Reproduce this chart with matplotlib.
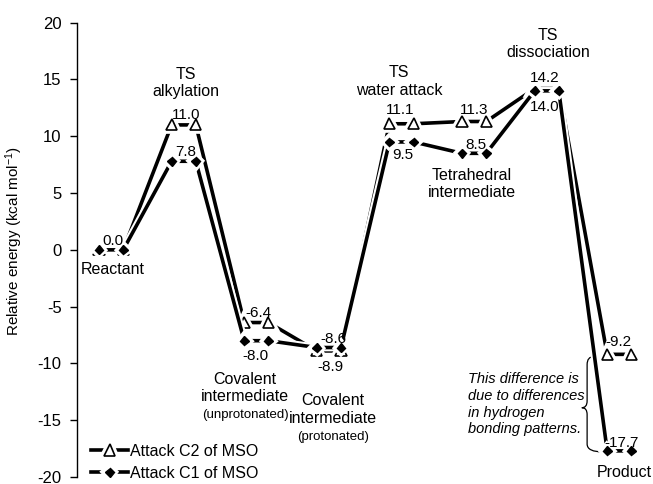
import numpy as np
import matplotlib
matplotlib.use("Agg")
import matplotlib.pyplot as plt
import matplotlib.patheffects as pe
from matplotlib.path import Path
from matplotlib.patches import PathPatch

plt.rcParams['font.family'] = ['Liberation Sans', 'DejaVu Sans']
plt.rcParams['mathtext.default'] = 'regular'
plt.rcParams['axes.unicode_minus'] = False

# energies per state (kcal/mol), each state drawn as a short plateau
states = ['Reactant', 'TS alkylation', 'Covalent (unprot.)', 'Covalent (prot.)',
          'TS water attack', 'Tetrahedral', 'TS dissociation', 'Product']
e_c2 = [0.0, 11.0, -6.4, -8.9, 11.1, 11.3, 14.2, -9.2]
e_c1 = [0.0, 7.8, -8.0, -8.6, 9.5, 8.5, 14.0, -17.7]

# value label positions (x, y) in data coords
lab_c2 = [(0.58, 0.8), (3.6, 11.9), (6.57, -5.55), (9.55, -10.3),
          (12.44, 12.3), (15.5, 12.3), (18.43, 15.14), (21.45, -8.1)]
lab_c1 = [None, (3.6, 8.6), (6.45, -9.33), (9.67, -7.83),
          (12.56, 8.36), (15.58, 9.24), (18.43, 12.6), (21.6, -17.0)]

x = []
for i in range(len(states)):
    x += [3 * i, 3 * i + 1]
y2 = np.repeat(e_c2, 2)
y1 = np.repeat(e_c1, 2)

fig = plt.figure(figsize=(6.53, 4.84), dpi=100)
ax = fig.add_axes([77 / 653, 1 - 477 / 484, (650 - 77) / 653, (477 - 22.7) / 484])

halo = [pe.Stroke(linewidth=5.5, foreground='white'), pe.Normal()]
ax.plot(x, y2, color='black', lw=2.6, marker='^', ms=8, mfc='white', mec='black',
        mew=1.2, label='Attack C2 of MSO', path_effects=halo, zorder=3)
ax.plot(x, y1, color='black', lw=2.6, marker='D', ms=4.5, mfc='black', mec='black',
        label='Attack C1 of MSO', path_effects=halo, zorder=4)

fs = 11
for v, p in zip(e_c2, lab_c2):
    ax.text(p[0], p[1], f'{v:.1f}', ha='center', va='center', fontsize=fs, zorder=6)
for v, p in zip(e_c1, lab_c1):
    if p is not None:
        ax.text(p[0], p[1], f'{v:.1f}', ha='center', va='center', fontsize=fs, zorder=6)

# state names
cf = 11.5
ax.text(0.58, -1.76, 'Reactant', ha='center', va='center', fontsize=cf)
ax.text(3.6, 14.7, 'TS\nalkylation', ha='center', va='center', fontsize=cf, linespacing=1.2)
ax.text(6.03, -12.15, 'Covalent\nintermediate', ha='center', va='center', fontsize=cf, linespacing=1.2)
ax.text(6.03, -14.5, '(unprotonated)', ha='center', va='center', fontsize=9.5)
ax.text(9.67, -14.04, 'Covalent\nintermediate', ha='center', va='center', fontsize=cf, linespacing=1.2)
ax.text(9.67, -16.46, '(protonated)', ha='center', va='center', fontsize=9.5)
ax.text(12.4, 14.83, 'TS\nwater attack', ha='center', va='center', fontsize=cf, linespacing=1.2)
ax.text(15.4, 5.8, 'Tetrahedral\nintermediate', ha='center', va='center', fontsize=cf, linespacing=1.2)
ax.text(18.55, 18.13, 'TS\ndissociation', ha='center', va='center', fontsize=cf, linespacing=1.2)
ax.text(21.7, -19.63, 'Product', ha='center', va='center', fontsize=cf)

ax.text(15.25, -13.6, 'This difference is\ndue to differences\nin hydrogen\nbonding patterns.',
        ha='left', va='center', fontsize=10.5, style='italic', linespacing=1.25)

# curly brace
bx, tx, ex = 20.17, 19.95, 20.45
ya, ym, yb = -9.4, -13.9, -17.8
verts = [(ex, ya), (bx, ya), (bx, ya - 0.7), (bx, ym + 0.6), (bx, ym), (tx, ym),
         (bx, ym), (bx, ym - 0.6), (bx, yb + 0.7), (bx, yb), (20.85, yb)]
codes = [Path.MOVETO, Path.CURVE3, Path.CURVE3, Path.LINETO, Path.CURVE3, Path.CURVE3,
         Path.CURVE3, Path.CURVE3, Path.LINETO, Path.CURVE3, Path.CURVE3]
ax.add_patch(PathPatch(Path(verts, codes), fill=False, lw=0.9, color='black', zorder=2))

ax.set_xlim(-0.91, (650 - 99) / 24.2)
ax.set_ylim(-20, 20)
ax.set_yticks(np.arange(-20, 21, 5))
ax.tick_params(axis='y', labelsize=12, direction='out', length=5, width=1, pad=6)
ax.set_xticks([])
for s in ['top', 'right', 'bottom']:
    ax.spines[s].set_visible(False)
ax.spines['left'].set_linewidth(1)
ax.set_ylabel('Relative energy (kcal mol$^{-1}$)', fontsize=11)
ax.yaxis.set_label_coords(-0.091, 0.52)

ax.legend(loc='lower left', bbox_to_anchor=(0.0, -0.04), frameon=False, fontsize=11.5,
          handlelength=2.3, handletextpad=0.1, labelspacing=0.45)

fig.savefig('out.png', dpi=100)
